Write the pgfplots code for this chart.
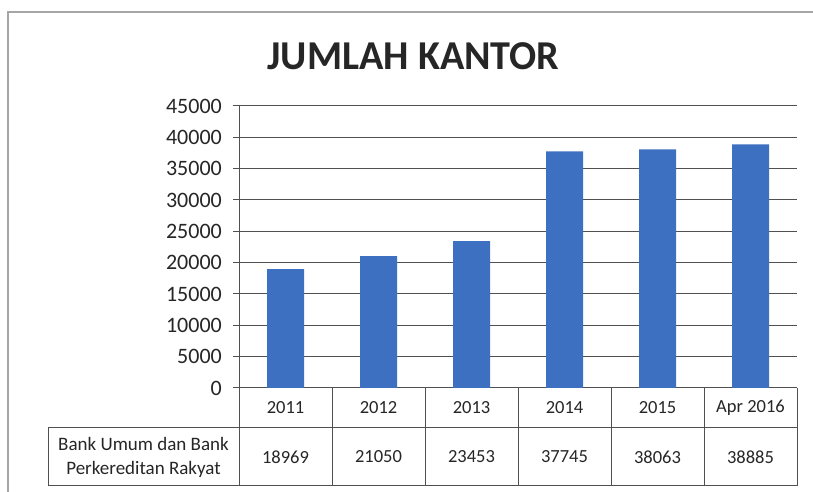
\documentclass[border=0pt]{standalone}
\usepackage{pgfplots}
\pgfplotsset{compat=1.18}
\usepackage{pgfplotstable}
\usepackage{fontspec}
\setmainfont{Carlito}
\definecolor{barblue}{HTML}{3E70C2}
\definecolor{gridc}{HTML}{505050}
\pgfplotstableread{
x y
0 18969
1 21050
2 23453
3 37745
4 38063
5 38885
}\kantor
\begin{document}
\begin{tikzpicture}[x=1pt,y=1pt]
\useasboundingbox (0,0) rectangle (813,492);
\fill[white] (0,0) rectangle (813,492);
\draw[gray!70, line width=1.2pt] (8,-5) -- (8,480) -- (820,480);
\node[font=\bfseries\fontsize{41}{41}\selectfont, text=black!85, xscale=0.98] at (413.5,436) {JUMLAH KANTOR};
\begin{axis}[at={(239pt,104pt)}, anchor=south west,
  scale only axis, width=558pt, height=282pt,
  xmin=-0.5, xmax=5.5, ymin=0, ymax=45000,
  ytick={0,5000,...,45000}, xtick=\empty,
  ymajorgrids, grid style={gridc, line width=1pt},
  axis lines*=left, axis line style={gridc, line width=1pt},
  ytick style={gridc, line width=1pt}, tick align=outside, major tick length=6pt,
  /pgf/number format/assume math mode=true,
  /pgf/number format/1000 sep={},
  scaled y ticks=false,
  yticklabel style={font=\fontsize{22}{22}\selectfont, inner sep=0pt, xshift=-11pt, text=black!85},
  ybar, bar width=37pt, bar shift=0pt, clip=false]
\addplot[fill=barblue, draw=none] table[x=x,y=y] {\kantor};
\end{axis}
\begin{scope}[gridc, line width=1pt]
\draw (48,64) -- (797,64);
\draw (48,6) -- (797,6);
\draw (48,64) -- (48,6);
\foreach \i in {0,...,6} { \draw (239+93*\i,104) -- (239+93*\i,6); }
\end{scope}
\begin{scope}[font=\fontsize{18.5}{21}\selectfont, text=black!85]
\node at (285.5,84) {2011};
\node at (378.5,84) {2012};
\node at (471.5,84) {2013};
\node at (564.5,84) {2014};
\node at (657.5,84) {2015};
\node at (750.5,84) {Apr 2016};
\node at (285.5,35) {18969};
\node at (378.5,35) {21050};
\node at (471.5,35) {23453};
\node at (564.5,35) {37745};
\node at (657.5,35) {38063};
\node at (750.5,35) {38885};
\node[align=center, font=\fontsize{19}{24}\selectfont] at (143.5,35) {Bank Umum dan Bank\\Perkereditan Rakyat};
\end{scope}
\end{tikzpicture}
\end{document}
